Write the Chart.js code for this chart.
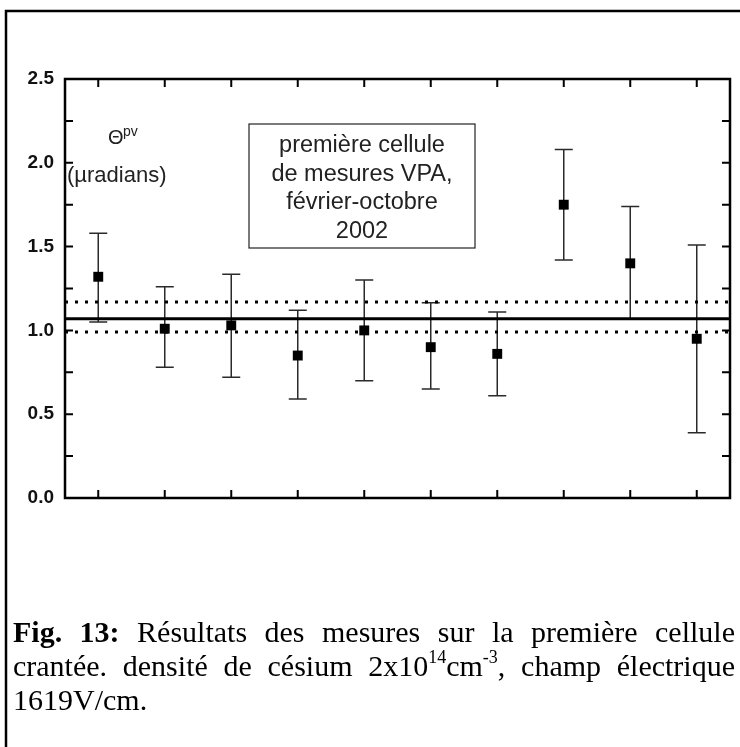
<!DOCTYPE html>
<html>
<head>
<meta charset="utf-8">
<script src="https://cdn.jsdelivr.net/npm/chart.js@4/dist/chart.umd.min.js"></script>
<style>
  body { margin: 0; background: #fff; }
  canvas { display: block; }
</style>
</head>
<body>
<canvas id="vpaChart" width="740" height="747"></canvas>
<script>
// measurement index along x (no labels shown on the axis)
const measurements = [1, 2, 3, 4, 5, 6, 7, 8, 9, 10];
// Theta pv values (microradians) and error bar ends
const thetaValues = [1.32, 1.01, 1.03, 0.85, 1.00, 0.90, 0.86, 1.75, 1.40, 0.95];
const errorHigh   = [1.58, 1.26, 1.335, 1.12, 1.30, 1.165, 1.11, 2.08, 1.74, 1.51];
const errorLow    = [1.05, 0.78, 0.72, 0.59, 0.70, 0.65, 0.61, 1.42, 1.07, 0.39];
// weighted mean and its band
const meanValue = 1.07;
const bandHigh = 1.17;
const bandLow = 0.99;
const xRange = [0.5, 10.5];
const yTickLabels = ["0.0", "0.5", "1.0", "1.5", "2.0", "2.5"];

const sans = "'Liberation Sans', Arial, sans-serif";
const serif = "'Liberation Serif', 'Times New Roman', serif";

function hline(v) {
    return [{ x: xRange[0], y: v }, { x: xRange[1], y: v }];
}

// error bars, drawn behind the square markers
const errorBars = {
    id: "errorBars",
    beforeDatasetsDraw(chart) {
        const ctx = chart.ctx;
        const xs = chart.scales.x, ys = chart.scales.y;
        ctx.save();
        ctx.strokeStyle = "#2a2a2a";
        ctx.lineWidth = 1.5;
        measurements.forEach((m, i) => {
            const px = xs.getPixelForValue(m);
            const top = ys.getPixelForValue(errorHigh[i]);
            const bot = ys.getPixelForValue(errorLow[i]);
            ctx.beginPath();
            ctx.moveTo(px, top); ctx.lineTo(px, bot);
            ctx.moveTo(px - 9, top); ctx.lineTo(px + 9, top);
            ctx.moveTo(px - 9, bot); ctx.lineTo(px + 9, bot);
            ctx.stroke();
        });
        ctx.restore();
    }
};

function drawJustified(ctx, words, x0, x1, y) {
    const widths = words.map(w => w.reduce((s, r) => {
        ctx.font = r.font;
        return s + ctx.measureText(r.t).width;
    }, 0));
    const total = widths.reduce((a, b) => a + b, 0);
    const gap = words.length > 1 ? (x1 - x0 - total) / (words.length - 1) : 0;
    let x = x0;
    words.forEach(w => {
        w.forEach(r => {
            ctx.font = r.font;
            ctx.fillText(r.t, x, y + (r.dy || 0));
            x += ctx.measureText(r.t).width;
        });
        x += gap;
    });
}

// frame, inward ticks, annotations and caption
const decorations = {
    id: "decorations",
    afterDraw(chart) {
        const ctx = chart.ctx;
        const a = chart.chartArea;
        const xs = chart.scales.x, ys = chart.scales.y;
        ctx.save();

        // outer page frame (top and left visible)
        ctx.strokeStyle = "#000";
        ctx.lineWidth = 2.5;
        ctx.beginPath();
        ctx.moveTo(6, 747); ctx.lineTo(6, 11); ctx.lineTo(740, 11);
        ctx.stroke();

        // plot box
        ctx.lineWidth = 2.5;
        ctx.strokeRect(a.left, a.top, a.right - a.left, a.bottom - a.top);

        // inward ticks
        ctx.lineWidth = 2;
        ctx.beginPath();
        ys.ticks.forEach(t => {
            const py = ys.getPixelForValue(t.value);
            if (t.value <= ys.min || t.value >= ys.max) return;
            ctx.moveTo(a.left, py); ctx.lineTo(a.left + 8, py);
            ctx.moveTo(a.right, py); ctx.lineTo(a.right - 8, py);
        });
        measurements.forEach(m => {
            const px = xs.getPixelForValue(m);
            ctx.moveTo(px, a.top); ctx.lineTo(px, a.top + 8);
            ctx.moveTo(px, a.bottom); ctx.lineTo(px, a.bottom - 8);
        });
        ctx.stroke();

        // Theta pv label
        ctx.fillStyle = "#222";
        ctx.textBaseline = "middle";
        ctx.textAlign = "left";
        ctx.font = "20px " + sans;
        ctx.fillText("\u0398", 108, 138);
        ctx.font = "14px " + sans;
        ctx.fillText("pv", 123, 132);
        ctx.font = "22px " + sans;
        ctx.fillText("(\u00b5radians)", 67, 176);

        // text box
        ctx.strokeStyle = "#222";
        ctx.lineWidth = 1.2;
        ctx.strokeRect(249, 124, 226, 124);
        ctx.textAlign = "center";
        ctx.font = "23.5px " + sans;
        ["premi\u00e8re cellule", "de mesures VPA,", "f\u00e9vrier-octobre", "2002"]
            .forEach((s, i) => ctx.fillText(s, 362, 146 + i * 28.5));

        // caption
        ctx.fillStyle = "#000";
        ctx.textAlign = "left";
        ctx.textBaseline = "alphabetic";
        const f = "30px " + serif, fb = "bold 30px " + serif, fs = "18px " + serif;
        const w = s => [{ t: s, font: f }];
        drawJustified(ctx, [
            [{ t: "Fig.", font: fb }], [{ t: "13:", font: fb }],
            w("R\u00e9sultats"), w("des"), w("mesures"), w("sur"), w("la"),
            w("premi\u00e8re"), w("cellule")
        ], 13, 735, 642);
        drawJustified(ctx, [
            w("crant\u00e9e."), w("densit\u00e9"), w("de"), w("c\u00e9sium"),
            [{ t: "2x10", font: f }, { t: "14", font: fs, dy: -13 },
             { t: "cm", font: f }, { t: "-3", font: fs, dy: -13 }, { t: ",", font: f }],
            w("champ"), w("\u00e9lectrique")
        ], 13, 735, 676);
        ctx.font = f;
        ctx.fillText("1619V/cm.", 13, 710);

        ctx.restore();
    }
};

new Chart(document.getElementById("vpaChart"), {
    type: "scatter",
    data: {
        datasets: [
            {
                label: "mean",
                type: "line",
                data: hline(meanValue),
                borderColor: "#000",
                borderWidth: 3,
                pointRadius: 0
            },
            {
                label: "band high",
                type: "line",
                data: hline(bandHigh),
                borderColor: "#000",
                borderWidth: 3,
                borderDash: [3, 7],
                pointRadius: 0
            },
            {
                label: "band low",
                type: "line",
                data: hline(bandLow),
                borderColor: "#000",
                borderWidth: 3,
                borderDash: [3, 7],
                pointRadius: 0
            },
            {
                label: "Theta pv",
                data: measurements.map((m, i) => ({ x: m, y: thetaValues[i] })),
                pointStyle: "rect",
                pointRadius: 7,
                backgroundColor: "#000",
                borderColor: "#000",
                borderWidth: 0
            }
        ]
    },
    options: {
        responsive: false,
        animation: false,
        layout: { padding: { top: 79, bottom: 249, left: 0, right: 10 } },
        plugins: {
            legend: { display: false },
            tooltip: { enabled: false }
        },
        scales: {
            x: {
                type: "linear",
                min: xRange[0],
                max: xRange[1],
                display: false
            },
            y: {
                min: 0,
                max: 2.5,
                afterFit(s) { s.width = 65; },
                grid: { display: false, drawTicks: false },
                border: { display: false },
                ticks: {
                    stepSize: 0.25,
                    padding: 11,
                    color: "#111",
                    font: { family: sans, size: 19, weight: "bold" },
                    callback: v => {
                        const k = Math.round(v * 4);
                        return k % 2 === 0 ? yTickLabels[k / 2] : "";
                    }
                }
            }
        }
    },
    plugins: [errorBars, decorations]
});
</script>
</body>
</html>
